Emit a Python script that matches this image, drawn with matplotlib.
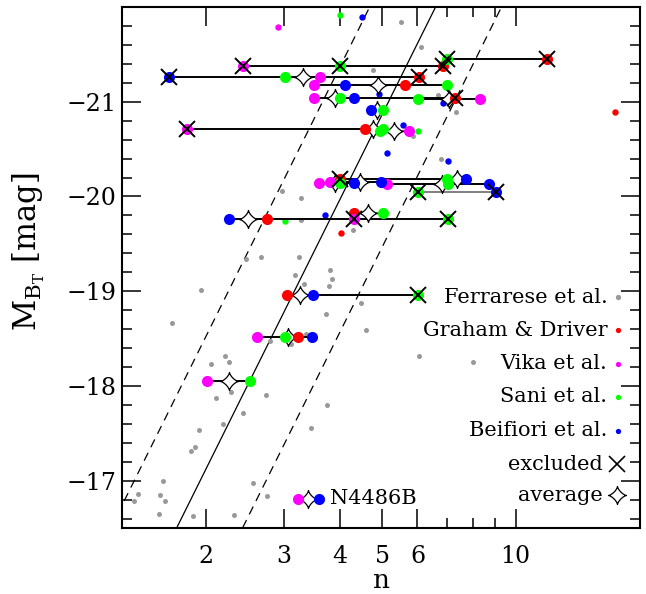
import numpy as np
import matplotlib
matplotlib.use("Agg")
import matplotlib.pyplot as plt
from matplotlib.path import Path
from matplotlib.ticker import FixedLocator, MultipleLocator, NullFormatter, FixedFormatter

# ================================
# Data
# ================================
survey_colors = {"GD": "#ff0000", "V": "#ff00ff", "S": "#00ff00", "B": "#0000ff"}

# Ferrarese et al. (grey points)
fer_n = [5.51, 6.11, 4.77, 6.68, 7.33, 5.87, 6.78, 2.96, 3.27, 3.28, 4.30, 2.46, 2.66,
         3.24, 3.81, 3.85, 3.78, 3.18, 3.33, 1.945, 1.67, 4.47, 3.73, 4.59, 6.05, 8.0,
         2.79, 3.11, 3.36, 2.21, 2.25, 2.05, 2.27, 2.10, 2.73, 2.42, 3.74, 2.18, 1.93,
         3.45, 1.89, 1.85, 1.60, 1.57, 1.61, 1.40, 1.37, 1.56, 1.87, 2.31, 2.55, 2.75]
fer_M = [-21.84, -21.58, -21.34, -21.07, -20.895, -20.64, -20.40, -20.06, -19.98, -19.75,
         -19.65, -19.34, -19.36, -19.36, -19.22, -19.13, -19.05, -19.17, -19.08, -19.01,
         -18.66, -18.87, -18.76, -18.59, -18.32, -18.25, -18.47, -18.44, -18.55, -18.32,
         -18.25, -18.23, -17.94, -17.87, -17.90, -17.71, -17.80, -17.60, -17.53, -17.56,
         -17.35, -17.31, -17.00, -16.85, -16.78, -16.86, -16.79, -16.65, -16.63, -16.64,
         -16.97, -16.84]

# galaxies with only one of the other samples (small coloured points)
single_n = [2.91, 4.01, 3.02, 6.01, 4.50, 4.92, 5.12, 7.04, 3.71, 5.56, 6.85, 16.8, 4.04]
single_M = [-21.785, -21.92, -19.74, -20.69, -21.89, -21.08, -20.46, -20.37, -19.80,
            -20.75, -20.99, -20.89, -19.61]
single_src = ["V", "S", "S", "S", "B", "B", "B", "B", "B", "B", "B", "GD", "GD"]

# galaxies measured by several samples
gal_M = [-21.375, -21.455, -21.26, -21.175, -21.036, -21.03, -20.913, -20.71, -20.69,
         -20.185, -20.145, -20.13, -20.155, -20.047, -19.83, -19.765, -18.96, -18.515,
         -18.05, -16.81]
gal_n = [[2.415, 4.0, 6.87], [7.01, 11.79], [1.644, 3.02, 3.62, 6.05],
         [3.51, 4.12, 5.63, 7.01], [3.51, 4.01, 4.32, 7.30], [6.01, 8.31], [4.71, 5.01],
         [1.81, 4.56, 5.02], [4.95, 5.73], [4.00, 7.01, 7.73], [3.60, 4.00, 4.32],
         [5.13, 7.05, 8.72], [3.81, 4.97], [6.01, 9.04], [4.32, 5.02],
         [2.246, 2.74, 4.32, 7.03], [3.05, 3.48, 6.01], [2.61, 3.02, 3.22, 3.46],
         [2.007, 2.51], [3.22, 3.59]]
gal_src = [["V", "S", "GD"], ["S", "GD"], ["B", "S", "V", "GD"], ["V", "B", "GD", "S"],
           ["V", "S", "B", "GD"], ["S", "V"], ["B", "S"], ["V", "GD", "S"], ["S", "V"],
           ["GD", "S", "B"], ["V", "S", "B"], ["V", "S", "B"], ["V", "B"], ["S", "B"],
           ["GD", "S"], ["B", "GD", "V", "S"], ["GD", "B", "S"], ["V", "S", "GD", "B"],
           ["V", "S"], ["V", "B"]]
gal_excl = [[1, 1, 1], [1, 1], [1, 0, 0, 1], [0, 0, 0, 0], [0, 0, 0, 1], [0, 0], [0, 0],
            [1, 0, 0], [0, 0], [1, 0, 0], [0, 0, 0], [0, 0, 0], [0, 0], [1, 1], [0, 0],
            [0, 0, 1, 1], [0, 0, 1], [0, 0, 0, 0], [0, 0], [0, 0]]
gal_avg = [None, None, 3.30, 4.88, 3.90, 7.07, 4.85, 4.77, 5.32, 7.36, 3.90, 6.81, 4.44,
           None, 4.65, 2.48, 3.25, 3.06, 2.25, 3.40]
gal_line = ["k", "k", "k", "k", "k", "k", "k", "k", "0.5", "k", "k", "k", "k", "0.5",
            "0.5", "k", "k", "k", "k", "k"]

# n - M relation (solid) and its scatter (dashed)
rel_slope = -9.4
rel_zp = -14.3
rel_scatter = 1.4

legend_labels = ["Ferrarese et al.", "Graham & Driver", "Vika et al.", "Sani et al.",
                 "Beifiori et al."]
legend_colors = ["#999999", "#ff0000", "#ff00ff", "#00ff00", "#0000ff"]

# ================================
# Plot
# ================================
plt.rcParams["font.family"] = ["DejaVu Serif"]
plt.rcParams["mathtext.fontset"] = "dejavuserif"

fig = plt.figure(figsize=(6.46, 5.94), dpi=100)
ax = fig.add_axes([122 / 646, 66 / 594, 518 / 646, 521 / 594])
ax.set_xscale("log")
ax.set_xlim(1.29, 19.1)
ax.set_ylim(-16.5, -22.0)

# 4-pointed concave star marker
t = np.linspace(0, 2 * np.pi, 161)
c, s = np.cos(t), np.sin(t)
star_path = Path(np.column_stack([np.sign(c) * np.abs(c) ** 2.8,
                                  np.sign(s) * np.abs(s) ** 2.8]))

nn = np.array([1.0, 25.0])
ax.plot(nn, rel_zp + rel_slope * np.log10(nn), color="k", lw=0.9, zorder=1)
for off in (-rel_scatter, rel_scatter):
    ax.plot(nn, rel_zp + off + rel_slope * np.log10(nn), color="k", lw=0.9,
            ls=(0, (7, 5)), zorder=1)

ax.plot(fer_n, fer_M, "o", color="#999999", ms=3.6, mec="none", zorder=2)
for n, m, src in zip(single_n, single_M, single_src):
    ax.plot(n, m, "o", color=survey_colors[src], ms=4.6, mec="none", zorder=2)

for m, ns, srcs, excl, avg, lc in zip(gal_M, gal_n, gal_src, gal_excl, gal_avg, gal_line):
    ax.plot([min(ns), max(ns)], [m, m], color=lc, lw=1.4, zorder=3)
    if avg is not None:
        ax.plot(avg, m, marker=star_path, ms=13, mfc="white", mec="k", mew=0.9,
                ls="none", zorder=4)
    for n, src, ex in zip(ns, srcs, excl):
        ax.plot(n, m, "o", color=survey_colors[src], ms=8, mec="none", zorder=5)
        if ex:
            ax.plot(n, m, "x", color="k", ms=11.5, mew=1.4, zorder=6)

ax.text(3.8, -16.81, "N4486B", fontsize=15, va="center", ha="left")

# legend
leg_y = [0.4428, 0.380, 0.3148, 0.252, 0.1868]
for lab, col, y in zip(legend_labels, legend_colors, leg_y):
    ax.text(0.937, y, lab, transform=ax.transAxes, fontsize=15, ha="right", va="center")
    ax.plot(0.957, y, "o", color=col, ms=3.8, mec="none", transform=ax.transAxes,
            clip_on=False)
ax.text(0.928, 0.1228, "excluded", transform=ax.transAxes, fontsize=15, ha="right",
        va="center")
ax.plot(0.956, 0.1228, "x", color="k", ms=11.5, mew=1.2, transform=ax.transAxes)
ax.text(0.928, 0.0633, "average", transform=ax.transAxes, fontsize=15, ha="right",
        va="center")
ax.plot(0.956, 0.0633, marker=star_path, ms=13, mfc="white", mec="k", mew=0.9,
        transform=ax.transAxes)

# axes and ticks
ax.xaxis.set_major_locator(FixedLocator([2, 3, 4, 5, 6, 10]))
ax.xaxis.set_major_formatter(FixedFormatter(["2", "3", "4", "5", "6", "10"]))
ax.xaxis.set_minor_locator(FixedLocator([7, 8, 9]))
ax.xaxis.set_minor_formatter(NullFormatter())
ax.yaxis.set_major_locator(FixedLocator([-21, -20, -19, -18, -17]))
ax.yaxis.set_minor_locator(MultipleLocator(0.2))
ax.yaxis.set_major_formatter(plt.FuncFormatter(lambda v, p: f"\u2212{abs(v):.0f}"))
ax.tick_params(which="both", direction="in", top=True, right=True, width=1.1)
ax.tick_params(which="major", length=13.5, labelsize=17)
ax.tick_params(which="minor", length=7)
ax.tick_params(axis="x", which="major", pad=12)
ax.tick_params(axis="y", which="major", pad=4)
for sp in ax.spines.values():
    sp.set_linewidth(1.5)

ax.set_xlabel("n", fontsize=19, labelpad=0)
ax.set_ylabel(r"$\mathrm{M}_{\mathrm{B}_\mathrm{T}}$ [mag]", fontsize=22)
ax.yaxis.set_label_coords(-0.145, 0.53)

fig.savefig("out.png", dpi=100)
